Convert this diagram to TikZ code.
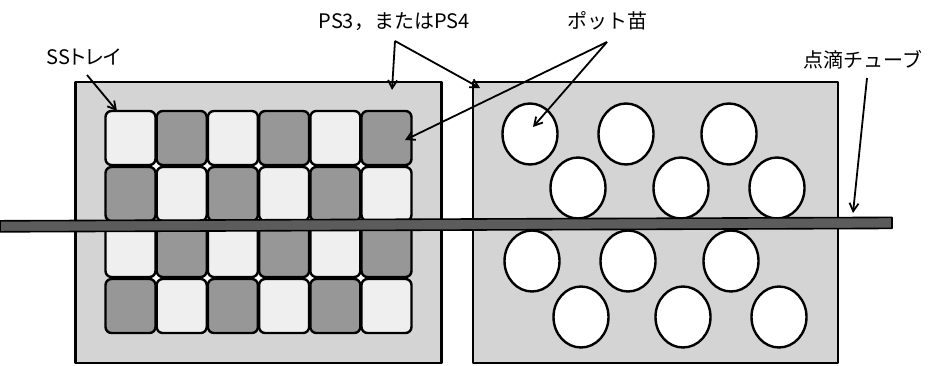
\documentclass[tikz,border=0pt]{standalone}
\usepackage{fontspec}
\setmainfont{Noto Sans CJK JP}
\newfontfamily\paltfont[RawFeature=+palt]{Noto Sans CJK JP}
\usepackage{tikz}
\usetikzlibrary{arrows.meta,positioning,shapes.geometric}
\definecolor{traybg}{HTML}{D4D4D4}
\definecolor{lightpot}{HTML}{EFEFEF}
\definecolor{darkpot}{HTML}{979797}
\definecolor{tubegray}{HTML}{5C5C5C}
\tikzset{
    every picture/.style={line join=round},
    traybox/.style={draw=black,fill=traybg,line width=2.4pt,
      minimum width=366pt,minimum height=281pt,inner sep=0pt},
    cellbox/.style={draw=black,line width=2.4pt,rounded corners=6pt,
      minimum width=50pt,minimum height=54pt,inner sep=0pt},
    potnode/.style={draw=black,fill=white,ellipse,line width=2.4pt,
      minimum width=55pt,minimum height=61pt,inner sep=0pt},
    tubebar/.style={draw=black,fill=tubegray,line width=1.6pt,
      minimum width=892pt,minimum height=11pt,inner sep=0pt},
    labeltext/.style={font=\fontsize{20}{24}\selectfont,inner sep=1pt},
    pointer/.style={-{Straight Barb[length=8pt,width=9pt]},draw=black,
      line width=1.8pt}
}

\begin{document}
\begin{tikzpicture}[x=1pt,y=-1pt]
  \useasboundingbox (0,0) rectangle (934,365);
  % trays
  \node[traybox] (ssbox) at (258.5,222.5) {};
  \node[traybox,minimum width=365pt] (potbox) at (655.5,222.5) {};
  \fill[white] (108,113) rectangle (409,331);
  \foreach \r in {1,...,4}
    \foreach \c in {1,...,6}{
      \ifodd\numexpr\r+\c\relax \def\cellfill{darkpot}\else \def\cellfill{lightpot}\fi
      \node[cellbox,fill=\cellfill] (cell\r\c) at ({130.5+51.2*(\c-1)},{138+56*(\r-1)}) {};
    }
  \foreach \n/\x/\y in {a1/530/134,a2/626/134,a3/729/134,
                        b1/578/188,b2/681/188,b3/777/188,
                        c1/532/261,c2/628/261,c3/731/261,
                        d1/581/317,d2/683/317,d3/779/317}
    \node[potnode] (pot\n) at (\x,\y) {};
  \node[tubebar,rotate=0.22] (tube) at (446,224.6) {};
  % labels
  \node[labeltext] (sslabel) at (84,57) {\paltfont SSトレイ};
  \node[labeltext] (pslabel) at (394,22) {PS3，またはPS4};
  \node[labeltext] (potlabel) at (607,21) {ポット苗};
  \node[labeltext] (tubelabel) at (863,60) {点滴チューブ};
  \coordinate (ssfork) at (87,75);
  \coordinate (psfork) at (395,41);
  \coordinate (potfork) at (607,42);
  \coordinate (tubefork) at (867,78);
  \coordinate (sstip) at (117,111);
  \coordinate (pstipl) at (392,90);
  \coordinate (pstipr) at (480,88);
  \coordinate (pottipl) at (405,140);
  \coordinate (pottipr) at (533,127);
  \coordinate (tubetip) at (853,213);
  \draw[pointer] (ssfork) -- (sstip);
  \draw[pointer] (psfork) -- (pstipl);
  \draw[pointer] (psfork) -- (pstipr);
  \draw[pointer] (potfork) -- (pottipl);
  \draw[pointer] (potfork) -- (pottipr);
  \draw[pointer] (tubefork) -- (tubetip);
\end{tikzpicture}
\end{document}
